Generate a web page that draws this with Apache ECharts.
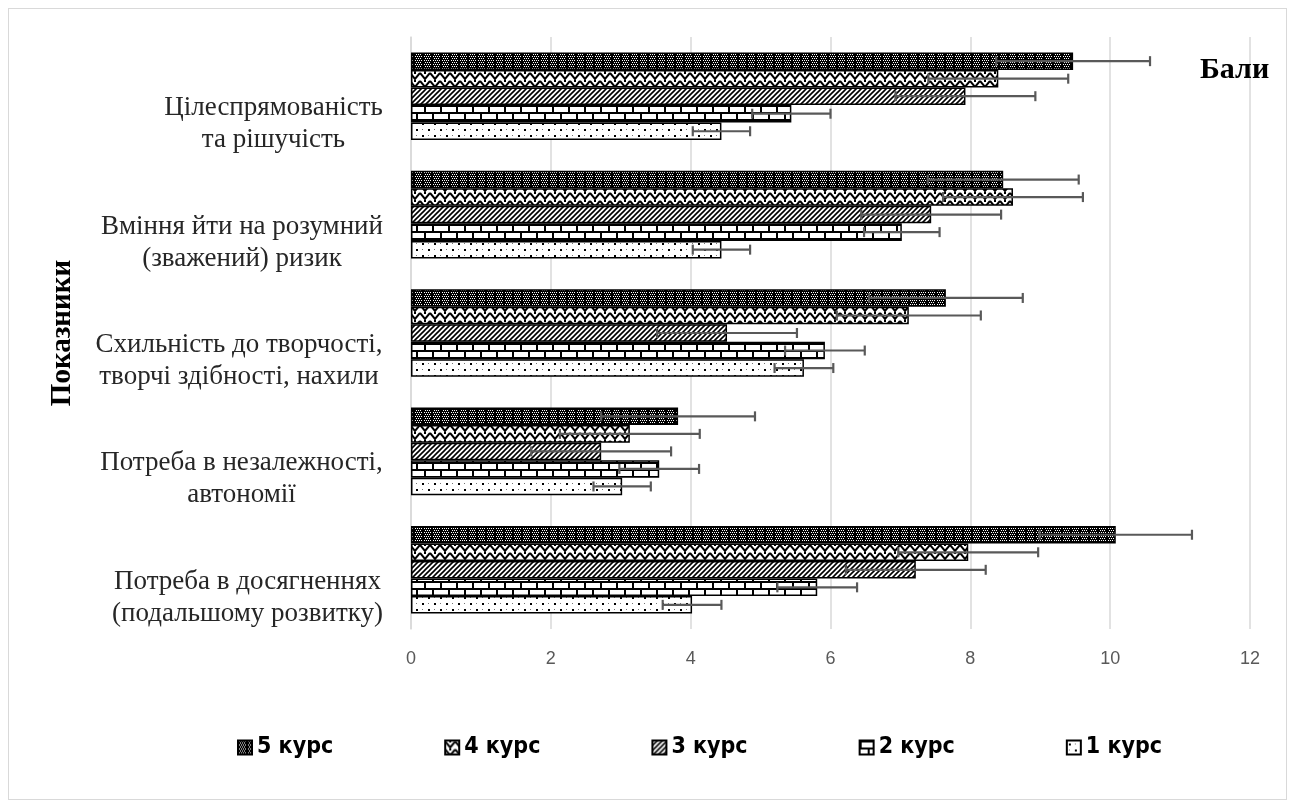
<!DOCTYPE html>
<html>
<head>
<meta charset="utf-8">
<script src="https://cdn.jsdelivr.net/npm/echarts@6/dist/echarts.min.js"></script>
<style>
html,body{margin:0;padding:0;background:#fff}
#chart{width:1295px;height:810px}
#frame{position:absolute;left:8px;top:8px;width:1279px;height:792px;border:1px solid #d9d9d9;box-sizing:border-box;pointer-events:none}
</style>
</head>
<body>
<div id="chart"></div>
<div id="frame"></div>
<script>
// категорії зверху вниз
let categories=['Цілеспрямованість\nта рішучість','Вміння йти на розумний\n(зважений) ризик','Схильність до творчості,\nтворчі здібності, нахили','Потреба в незалежності,\nавтономії','Потреба в досягненнях\n(подальшому розвитку)']
let seriesNames=['5 курс','4 курс','3 курс','2 курс','1 курс']
// середні бали
let kurs5=[9.47,8.47,7.65,3.82,10.08]
let kurs4=[8.40,8.61,7.12,3.13,7.97]
let kurs3=[7.93,7.44,4.52,2.72,7.22]
let kurs2=[5.44,7.02,5.92,3.55,5.81]
let kurs1=[4.44,4.44,5.62,3.02,4.02]
// похибки
let err5=[1.10,1.08,1.10,1.10,1.09]
let err4=[1.00,1.00,1.03,1.00,1.00]
let err3=[1.00,1.00,1.00,1.00,1.00]
let err2=[0.56,0.54,0.57,0.57,0.57]
let err1=[0.41,0.41,0.42,0.41,0.42]
let xMin=0,xMax=12,xStep=2

let values=[kurs5,kurs4,kurs3,kurs2,kurs1]
let errors=[err5,err4,err3,err2,err1]

const gapRatio=0.26
const labelFont='27px "Liberation Serif"'

function tile(w,h,draw){
  let c=document.createElement('canvas')
  c.width=w;c.height=h
  let g=c.getContext('2d')
  g.fillStyle='#fff';g.fillRect(0,0,w,h)
  draw(g,w,h)
  return {image:c,repeat:'repeat'}
}
let patterns=[
  // 5 курс - темна сітка з точками
  tile(9,4,function(g){
    g.fillStyle='#000';g.fillRect(0,0,9,4)
    g.fillStyle='#fff'
    ;[[1,0],[3,0],[5,0],[7,0],[2,2],[4,2],[6,2]].forEach(p=>g.fillRect(p[0],p[1],1,1))
  }),
  // 4 курс - зигзаг
  tile(10,8,function(g){
    g.strokeStyle='#000';g.lineWidth=2
    g.beginPath();g.moveTo(0,1);g.lineTo(5,7);g.lineTo(10,1);g.stroke()
    g.fillStyle='#000';g.fillRect(4,0,2,2)
  }),
  // 3 курс - діагональ
  tile(5,5,function(g){
    g.strokeStyle='#000';g.lineWidth=1.6
    g.beginPath()
    g.moveTo(-1,6);g.lineTo(6,-1)
    g.moveTo(-1,1);g.lineTo(1,-1)
    g.moveTo(4,6);g.lineTo(6,4)
    g.stroke()
  }),
  // 2 курс - цегла
  tile(16,14,function(g){
    g.fillStyle='#000'
    g.fillRect(0,0,16,2);g.fillRect(0,7,16,2)
    g.fillRect(0,0,2,7);g.fillRect(8,7,2,7)
  }),
  // 1 курс - точки
  tile(12,12,function(g){
    g.fillStyle='#000'
    g.fillRect(2,3,2,2);g.fillRect(8,9,2,2)
    g.fillStyle='#777'
    g.fillRect(8,3,1,1);g.fillRect(2,9,1,1)
  })
]

let mctx=document.createElement('canvas').getContext('2d')
mctx.font=labelFont
let rich={}
categories.forEach(function(c,i){
  let w=Math.max.apply(null,c.split('\n').map(l=>mctx.measureText(l).width))
  rich['c'+i]={width:Math.ceil(w)+2,align:'center',fontSize:27,fontFamily:'Liberation Serif',lineHeight:32,color:'#262626'}
})

let series=[]
values.forEach(function(v,si){
  series.push({
    type:'bar',name:seriesNames[si],data:v,
    barGap:'0%',barCategoryGap:(gapRatio*100)+'%',
    itemStyle:{color:patterns[si],borderColor:'#000',borderWidth:1.5},
    emphasis:{disabled:true}
  })
})
values.forEach(function(v,si){
  series.push({
    type:'custom',name:'err'+si,silent:true,z:5,
    data:v.map((val,i)=>[i,val,errors[si][i]]),
    encode:{y:0,x:1},
    renderItem:function(params,api){
      let ci=api.value(0),val=api.value(1),e=api.value(2)
      let band=api.size([0,1])[1]
      let total=band*(1-gapRatio)
      let bh=total/5
      let c=api.coord([val,ci])
      let y=c[1]-total/2+bh*si+bh/2
      let x1=api.coord([val-e,ci])[0],x2=api.coord([val+e,ci])[0]
      let st={stroke:'#595959',lineWidth:2.2}
      return {type:'group',children:[
        {type:'line',shape:{x1:x1,y1:y,x2:x2,y2:y},style:st},
        {type:'line',shape:{x1:x1,y1:y-5,x2:x1,y2:y+5},style:st},
        {type:'line',shape:{x1:x2,y1:y-5,x2:x2,y2:y+5},style:st}
      ]}
    }
  })
})

let myChart=echarts.init(document.getElementById('chart'))
myChart.setOption({
  animation:false,
  backgroundColor:'#fff',
  title:{text:'Бали',left:1195,top:50,textStyle:{fontFamily:'Liberation Serif',fontWeight:'bold',fontSize:30,color:'#000'}},
  legend:{
    data:seriesNames,left:232,top:731,itemWidth:14,itemHeight:14,itemGap:111,icon:'rect',
    textStyle:{fontFamily:'Liberation Sans Narrow, DejaVu Sans Condensed, sans-serif',fontWeight:'bold',fontSize:23,color:'#000'}
  },
  grid:{left:411,right:45,top:37,height:592,outerBoundsMode:'none'},
  xAxis:{
    type:'value',min:xMin,max:xMax,interval:xStep,
    axisLine:{show:false},axisTick:{show:false},
    axisLabel:{fontFamily:'Liberation Sans',fontSize:18,color:'#595959',margin:21},
    splitLine:{lineStyle:{color:'#d9d9d9',width:1.5}}
  },
  yAxis:{
    type:'category',inverse:true,data:categories,
    axisLine:{lineStyle:{color:'#d9d9d9',width:1.5}},axisTick:{show:false},
    axisLabel:{margin:27,padding:[56,0,0,0],rich:rich,formatter:function(v,i){return v.split('\n').map(l=>'{c'+i+'|'+l+'}').join('\n')}},
    name:'Показники',nameLocation:'middle',nameRotate:90,nameGap:334,
    nameTextStyle:{fontFamily:'Liberation Serif',fontWeight:'bold',fontSize:29,color:'#000'}
  },
  series:series
})
</script>
</body>
</html>
